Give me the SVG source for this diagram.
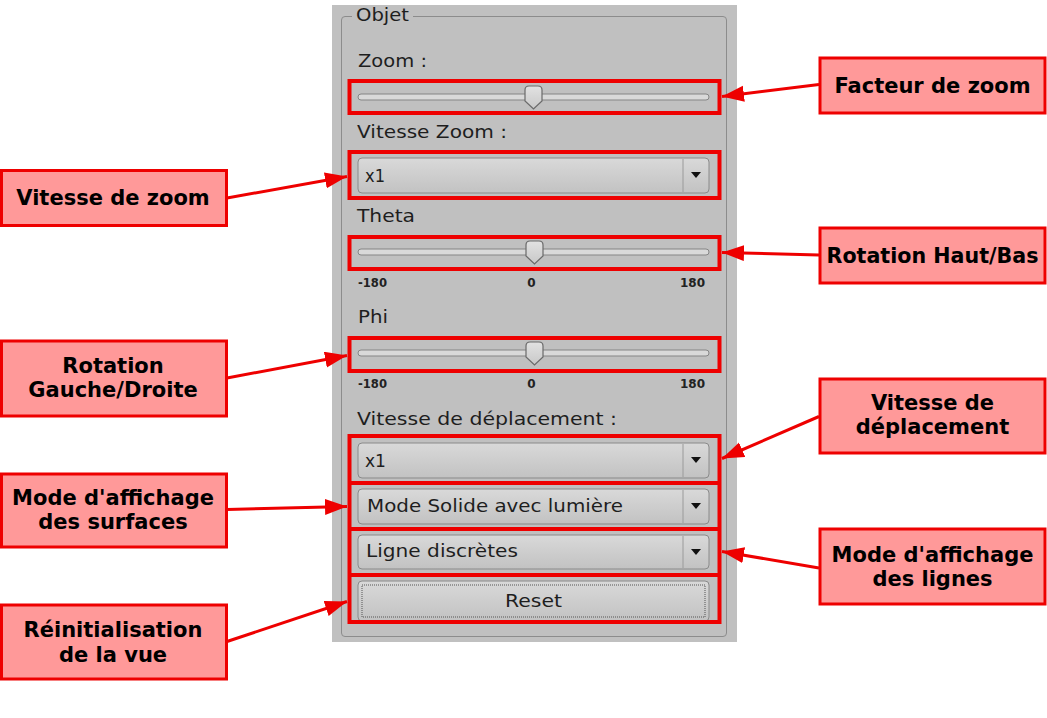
<svg xmlns="http://www.w3.org/2000/svg" width="1047" height="718" viewBox="0 0 1047 718">
<defs>
<linearGradient id="gCombo" x1="0" y1="0" x2="0" y2="1">
<stop offset="0" stop-color="#d9d9d9"/><stop offset="1" stop-color="#c2c2c2"/>
</linearGradient>
<linearGradient id="gHandle" x1="0" y1="0" x2="0" y2="1">
<stop offset="0" stop-color="#e2e2e2"/><stop offset="1" stop-color="#c8c8c8"/>
</linearGradient>
<marker id="ah" markerUnits="userSpaceOnUse" markerWidth="24" markerHeight="18" refX="22" refY="8" orient="auto">
<path d="M0,0 L22,8 L0,16 z" fill="#ee0000"/>
</marker>
<style>
.w{font-family:"DejaVu Sans","Liberation Sans",sans-serif;font-size:17.5px;fill:#1e1e1e}
.tick{font-family:"DejaVu Sans","Liberation Sans",sans-serif;font-size:12px;font-weight:bold;fill:#222}
.lbl{font-family:"DejaVu Sans","Liberation Sans",sans-serif;font-size:21px;font-weight:bold;fill:#000;text-anchor:middle}
.lb{fill:#ff9999;stroke:#ee0000;stroke-width:3}
.hl{fill:none;stroke:#ee0000;stroke-width:4}
.groove{fill:#d9d9d9;stroke:#858585;stroke-width:1}
.handle{fill:url(#gHandle);stroke:#6a6a6a;stroke-width:1.2}
.combo{fill:url(#gCombo);stroke:#8a8a8a;stroke-width:1}
.sep{stroke:#9a9a9a;stroke-width:1}
.conn{stroke:#ee0000;stroke-width:3;fill:none;marker-end:url(#ah)}
</style>
</defs>
<rect width="1047" height="718" fill="#ffffff"/>

<g id="panel">
<rect x="332" y="5" width="405" height="637" fill="#c0c0c0"/>
<path d="M352,16.5 L345,16.5 Q341.5,16.5 341.5,20 L341.5,633 Q341.5,636.5 345,636.5 L723,636.5 Q726.5,636.5 726.5,633 L726.5,20 Q726.5,16.5 723,16.5 L413,16.5" fill="none" stroke="#8c8c8c" stroke-width="1"/>
<text class="w" x="356" y="21" textLength="53" lengthAdjust="spacingAndGlyphs">Objet</text>

<text class="w" x="358" y="67" textLength="69" lengthAdjust="spacingAndGlyphs">Zoom :</text>
<rect class="groove" x="358" y="94" width="351" height="6" rx="3"/>
<path class="handle" d="M525,90 Q525,86 529,86 L538,86 Q542,86 542,90 L542,101 L533.5,109 L525,101 z"/>

<text class="w" x="357" y="138" textLength="150" lengthAdjust="spacingAndGlyphs">Vitesse Zoom :</text>
<rect class="combo" x="358" y="158" width="351" height="35" rx="4"/>
<line class="sep" x1="683" y1="159" x2="683" y2="192"/>
<path d="M691,172 L701,172 L696,178 z" fill="#111"/>
<text class="w" x="365" y="182" textLength="20" lengthAdjust="spacingAndGlyphs">x1</text>

<text class="w" x="357" y="222" textLength="58" lengthAdjust="spacingAndGlyphs">Theta</text>
<rect class="groove" x="358" y="249" width="351" height="6" rx="3"/>
<path class="handle" d="M526,245 Q526,241 530,241 L539,241 Q543,241 543,245 L543,256 L534.5,264 L526,256 z"/>
<text class="tick" x="358" y="287" textLength="29" lengthAdjust="spacingAndGlyphs">-180</text>
<text class="tick" x="531.5" y="287" text-anchor="middle">0</text>
<text class="tick" x="705" y="287" text-anchor="end">180</text>

<text class="w" x="358" y="323" textLength="30" lengthAdjust="spacingAndGlyphs">Phi</text>
<rect class="groove" x="358" y="350" width="351" height="6" rx="3"/>
<path class="handle" d="M526,346 Q526,342 530,342 L539,342 Q543,342 543,346 L543,357 L534.5,365 L526,357 z"/>
<text class="tick" x="358" y="388" textLength="29" lengthAdjust="spacingAndGlyphs">-180</text>
<text class="tick" x="531.5" y="388" text-anchor="middle">0</text>
<text class="tick" x="705" y="388" text-anchor="end">180</text>

<text class="w" x="357" y="425" textLength="260" lengthAdjust="spacingAndGlyphs">Vitesse de déplacement :</text>
<rect class="combo" x="358" y="443" width="351" height="35" rx="4"/>
<line class="sep" x1="683" y1="444" x2="683" y2="477"/>
<path d="M691,457 L701,457 L696,463 z" fill="#111"/>
<text class="w" x="365" y="467" textLength="21" lengthAdjust="spacingAndGlyphs">x1</text>

<rect class="combo" x="358" y="489" width="351" height="35" rx="4"/>
<line class="sep" x1="683" y1="490" x2="683" y2="523"/>
<path d="M691,503 L701,503 L696,509 z" fill="#111"/>
<text class="w" x="367" y="512" textLength="256" lengthAdjust="spacingAndGlyphs">Mode Solide avec lumière</text>

<rect class="combo" x="358" y="535" width="351" height="34" rx="4"/>
<line class="sep" x1="683" y1="536" x2="683" y2="568"/>
<path d="M691,549 L701,549 L696,555 z" fill="#111"/>
<text class="w" x="366" y="557" textLength="152" lengthAdjust="spacingAndGlyphs">Ligne discrètes</text>

<rect class="combo" x="358" y="581" width="351" height="40" rx="4"/>
<rect x="362" y="585" width="343" height="32" fill="none" stroke="#555" stroke-width="1" stroke-dasharray="1,1"/>
<text class="w" x="533.5" y="607" text-anchor="middle" textLength="57" lengthAdjust="spacingAndGlyphs">Reset</text>
</g>

<g id="highlights">
<rect class="hl" x="349.5" y="81" width="370" height="32"/>
<rect class="hl" x="349.5" y="152" width="370" height="46"/>
<rect class="hl" x="349.5" y="237" width="370" height="32"/>
<rect class="hl" x="349.5" y="338" width="370" height="33"/>
<rect class="hl" x="349.5" y="436" width="370" height="186"/>
<line class="hl" x1="349.5" y1="483" x2="719.5" y2="483"/>
<line class="hl" x1="349.5" y1="529" x2="719.5" y2="529"/>
<line class="hl" x1="349.5" y1="575" x2="719.5" y2="575"/>
</g>

<g id="connectors">
<line class="conn" x1="819" y1="84.5" x2="722" y2="96.5"/>
<line class="conn" x1="819" y1="255" x2="722" y2="252.5"/>
<line class="conn" x1="819" y1="416.5" x2="722" y2="458.5"/>
<line class="conn" x1="819" y1="568" x2="722" y2="551.5"/>
<line class="conn" x1="227" y1="198" x2="347" y2="176.5"/>
<line class="conn" x1="227" y1="378" x2="347" y2="355.5"/>
<line class="conn" x1="227" y1="509.5" x2="347" y2="506.5"/>
<line class="conn" x1="227" y1="641.5" x2="347" y2="601.5"/>
</g>

<g id="lbl-facteur">
<rect class="lb" x="820" y="58" width="225" height="55"/>
<text class="lbl" x="932.5" y="92.5">Facteur de zoom</text>
</g>
<g id="lbl-haut-bas">
<rect class="lb" x="820" y="228" width="225" height="55"/>
<text class="lbl" x="932.5" y="262.5" textLength="212" lengthAdjust="spacingAndGlyphs">Rotation Haut/Bas</text>
</g>
<g id="lbl-vitesse-depl">
<rect class="lb" x="820" y="379" width="225" height="74"/>
<text class="lbl" x="932.5" y="410">Vitesse de</text>
<text class="lbl" x="932.5" y="434">déplacement</text>
</g>
<g id="lbl-mode-lignes">
<rect class="lb" x="820" y="529" width="225" height="75"/>
<text class="lbl" x="932.5" y="561.5">Mode d'affichage</text>
<text class="lbl" x="932.5" y="585.5">des lignes</text>
</g>
<g id="lbl-vitesse-zoom">
<rect class="lb" x="1.5" y="170.5" width="225" height="55"/>
<text class="lbl" x="113" y="205">Vitesse de zoom</text>
</g>
<g id="lbl-gauche-droite">
<rect class="lb" x="1.5" y="341" width="225" height="75"/>
<text class="lbl" x="113" y="373">Rotation</text>
<text class="lbl" x="113" y="397">Gauche/Droite</text>
</g>
<g id="lbl-mode-surfaces">
<rect class="lb" x="1.5" y="474" width="225" height="73"/>
<text class="lbl" x="113" y="505">Mode d'affichage</text>
<text class="lbl" x="113" y="529">des surfaces</text>
</g>
<g id="lbl-reinit">
<rect class="lb" x="1.5" y="605" width="225" height="74"/>
<text class="lbl" x="113" y="637">Réinitialisation</text>
<text class="lbl" x="113" y="662">de la vue</text>
</g>
</svg>
